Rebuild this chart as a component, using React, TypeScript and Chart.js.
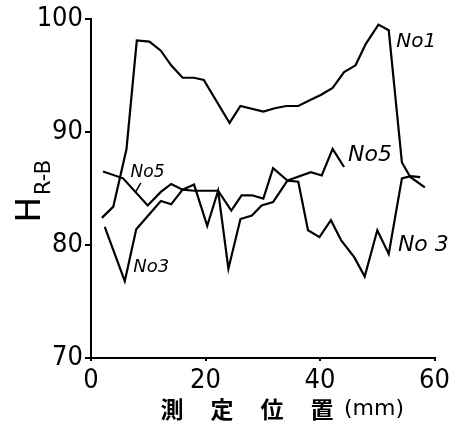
import React, { useEffect, useRef } from "react";
import { Chart, registerables } from "chart.js";

Chart.register(...registerables);

// ---- data ----
const no1X = [1.9, 3.9, 6.2, 8.0, 10.2, 12.2, 14.0, 16.0, 18.0, 19.7, 24.2, 26.1, 30.1, 32.1, 34.1, 36.2, 38.2, 40.2, 42.2, 44.2, 46.2, 48.0, 50.2, 52.0, 54.3, 55.8, 58.3];
const no1Y = [82.4, 83.4, 88.5, 98.1, 98.0, 97.2, 95.9, 94.8, 94.8, 94.6, 90.8, 92.3, 91.8, 92.1, 92.3, 92.3, 92.8, 93.3, 93.9, 95.3, 95.9, 97.8, 99.5, 99.0, 87.3, 86.0, 85.1];

const no3X = [2.4, 5.9, 7.9, 12.2, 14.0, 16.0, 18.0, 20.3, 22.2, 24.0, 26.1, 28.1, 29.8, 31.8, 34.3, 36.2, 37.9, 39.9, 41.9, 43.7, 46.0, 47.8, 50.0, 52.0, 54.3, 55.8, 57.5];
const no3Y = [81.6, 76.8, 81.4, 83.9, 83.6, 84.9, 85.35, 81.7, 84.8, 77.9, 82.3, 82.6, 83.5, 83.8, 85.7, 85.6, 81.3, 80.7, 82.2, 80.4, 78.9, 77.2, 81.3, 79.2, 85.9, 86.1, 86.0];

const no5X = [2.1, 5.6, 9.9, 12.2, 14.0, 16.0, 18.0, 22.2, 24.5, 26.3, 28.1, 30.1, 31.8, 34.3, 38.4, 40.3, 42.2, 44.2];
const no5Y = [86.5, 85.9, 83.5, 84.7, 85.4, 84.9, 84.8, 84.8, 83.05, 84.4, 84.4, 84.1, 86.8, 85.7, 86.45, 86.15, 88.5, 86.9];

const xTicks = [0, 20, 40, 60];
const yTicks = [70, 80, 90, 100];

const seriesLabels = ["No1", "No3", "No5"];

// in-plot curve labels: text, x (mm), y (value), font size
const noteText = ["No1", "No5", "No5", "No3", "No 3"];
const noteX = [53.3, 44.9, 6.9, 7.4, 53.6];
const noteY = [98.0, 87.9, 86.4, 78.0, 80.0];
const noteSize = [20, 22, 17, 18, 22];

const xTitle = ["測", "定", "位", "置", "(mm)"];
const yTitleMain = "H";
const yTitleSub = "R-B";

const TICK_FONT = "'Liberation Sans Narrow', 'DejaVu Sans Condensed', 'DejaVu Sans', sans-serif";
const HAND_FONT = "'DejaVu Sans', sans-serif";

const pts = (xs: number[], ys: number[]) => xs.map((x, i) => ({ x, y: ys[i] }));

const textPlugin = {
  id: "handText",
  afterDraw(chart: any) {
    const { ctx, scales } = chart;
    const xs = scales.x;
    const ys = scales.y;
    ctx.save();
    ctx.fillStyle = "#000";
    ctx.strokeStyle = "#000";
    // curve labels
    ctx.textAlign = "left";
    ctx.textBaseline = "middle";
    noteText.forEach((t, i) => {
      ctx.font = `italic ${noteSize[i]}px ${HAND_FONT}`;
      ctx.fillText(t, xs.getPixelForValue(noteX[i]), ys.getPixelForValue(noteY[i]));
    });
    // small leader from left No5 label to its curve
    ctx.lineWidth = 1.5;
    ctx.beginPath();
    ctx.moveTo(xs.getPixelForValue(8.7), ys.getPixelForValue(85.5));
    ctx.lineTo(xs.getPixelForValue(7.8), ys.getPixelForValue(84.7));
    ctx.stroke();

    // y title (rotated)
    const area = chart.chartArea;
    const yc = (area.top + area.bottom) / 2;
    ctx.save();
    ctx.translate(area.left - 51, yc + 34);
    ctx.rotate(-Math.PI / 2);
    ctx.textAlign = "left";
    ctx.textBaseline = "alphabetic";
    ctx.font = `34px ${HAND_FONT}`;
    ctx.fillText(yTitleMain, 0, 0);
    const hw = ctx.measureText(yTitleMain).width;
    ctx.font = `21px ${HAND_FONT}`;
    ctx.fillText(yTitleSub, hw + 2, 10);
    ctx.restore();

    // x title
    ctx.textAlign = "center";
    ctx.textBaseline = "middle";
    const cy = area.bottom + 51;
    const startX = area.left + 81;
    xTitle.forEach((t, i) => {
      if (i < 4) {
        ctx.font = `bold 23px 'Noto Sans CJK JP', sans-serif`;
        ctx.fillText(t, startX + i * 50, cy);
      } else {
        ctx.font = `22px ${HAND_FONT}`;
        ctx.textAlign = "left";
        ctx.fillText(t, startX + 3 * 50 + 22, cy);
      }
    });
    ctx.restore();
  },
};

export default function App() {
  const ref = useRef<HTMLCanvasElement | null>(null);
  useEffect(() => {
    if (!ref.current) return;
    const line = (label: string, data: any[]) => ({
      label,
      data,
      borderColor: "#000",
      borderWidth: 2.2,
      pointRadius: 0,
      tension: 0,
      fill: false,
    });
    const chart = new Chart(ref.current, {
      type: "line",
      data: {
        datasets: [
          line(seriesLabels[0], pts(no1X, no1Y)),
          line(seriesLabels[1], pts(no3X, no3Y)),
          line(seriesLabels[2], pts(no5X, no5Y)),
        ],
      },
      options: {
        animation: false,
        responsive: true,
        maintainAspectRatio: false,
        layout: { padding: { top: 19, right: 16, left: 0, bottom: 0 } },
        plugins: { legend: { display: false }, tooltip: { enabled: false } },
        scales: {
          x: {
            type: "linear",
            min: 0,
            max: 60,
            afterBuildTicks: (s: any) => {
              s.ticks = xTicks.map((v) => ({ value: v }));
            },
            afterFit: (s: any) => {
              s.height = 65;
            },
            ticks: {
              color: "#000",
              font: { family: TICK_FONT, size: 27 },
              padding: 4,
              maxRotation: 0,
            },
            grid: { display: true, drawOnChartArea: false, drawTicks: true, tickLength: 3, color: "#000", lineWidth: 2 },
            border: { display: true, color: "#000", width: 2 },
          },
          y: {
            type: "linear",
            min: 70,
            max: 100,
            afterBuildTicks: (s: any) => {
              s.ticks = yTicks.map((v) => ({ value: v }));
            },
            afterFit: (s: any) => {
              s.width = 91;
            },
            ticks: {
              color: "#000",
              font: { family: TICK_FONT, size: 27 },
              padding: 2,
            },
            grid: { display: true, drawOnChartArea: false, drawTicks: true, tickLength: 6, color: "#000", lineWidth: 2 },
            border: { display: true, color: "#000", width: 2 },
          },
        },
      },
      plugins: [textPlugin],
    });
    return () => chart.destroy();
  }, []);
  return (
    <div style={{ position: "fixed", left: 0, top: 0, width: 454, height: 423, background: "#fff" }}>
      <canvas ref={ref} />
    </div>
  );
}
